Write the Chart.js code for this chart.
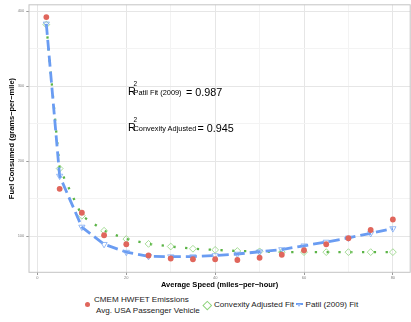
<!DOCTYPE html>
<html>
<head>
<meta charset="utf-8">
<script src="https://cdn.jsdelivr.net/npm/chart.js@4"></script>
<style>
html, body { margin: 0; padding: 0; background: #fff; overflow: hidden; width: 411px; height: 322px; }
body { position: relative; font-family: "Liberation Sans", Arial, Helvetica, sans-serif; color: #000; }
canvas { position: absolute; left: 0; top: 0; }
.t { position: absolute; white-space: nowrap; line-height: 1; }
.big { font-size: 10.8px; }
.sup { font-size: 6.5px; }
.sub { font-size: 7.4px; }
.leg { font-size: 8.1px; color: #1a1a1a; }
.dot { position: absolute; width: 5.6px; height: 5.6px; border-radius: 50%; background: #e0665c; }
.dia { position: absolute; width: 4.6px; height: 4.6px; border: 0.8px solid #8fd37c; transform: rotate(45deg); }
.bar { position: absolute; width: 7px; height: 2.6px; background: #6a9cf2; }
.tri { position: absolute; width: 0; height: 0; border-left: 2.2px solid transparent; border-right: 2.2px solid transparent; border-top: 3px solid #9dbcf5; }
</style>
</head>
<body>
<canvas id="chart" width="415" height="290"></canvas>

<div class="t big" style="left:128px;top:86.2px">R</div>
<div class="t sup" style="left:133.5px;top:81.4px">2</div>
<div class="t sub" style="left:133.5px;top:89.2px">Patil Fit (2009)</div>
<div class="t big" style="left:186px;top:86.6px">= 0.987</div>

<div class="t big" style="left:128px;top:122.2px">R</div>
<div class="t sup" style="left:133.5px;top:117.4px">2</div>
<div class="t sub" style="left:133.5px;top:125.2px">Convexity Adjusted</div>
<div class="t big" style="left:197.5px;top:122.6px">= 0.945</div>

<div class="dot" style="left:84.5px;top:301.5px"></div>
<div class="t leg" style="left:94px;top:296px">CMEM HWFET Emissions</div>
<div class="t leg" style="left:96px;top:307px">Avg. USA Passenger Vehicle</div>
<div class="dia" style="left:204px;top:301.5px"></div>
<div class="t leg" style="left:214px;top:301px">Convexity Adjusted Fit</div>
<div class="bar" style="left:296px;top:302.6px"></div>
<div class="tri" style="left:297.3px;top:303.8px"></div>
<div class="t leg" style="left:305.5px;top:301px">Patil (2009) Fit</div>

<script>
const speeds = [2, 5, 10, 15, 20, 25, 30, 35, 40, 45, 50, 55, 60, 65, 70, 75, 80];
const cmem = [392, 163, 131, 101, 89, 74, 70, 69, 69, 68, 71, 75, 81, 89, 97, 108, 122];
const convexFit = [382, 190, 127, 107, 96, 89.5, 86, 83, 81.5, 80, 79.5, 78.5, 78.5, 78.5, 78.5, 78.5, 78.5];
const patilFit = [383, 180, 112, 89, 78.5, 73, 72.5, 72.5, 74, 76, 79, 82, 87, 92, 97.5, 103.5, 110];

const fontFam = '"Liberation Sans", Arial, Helvetica, sans-serif';

function pts(ys) {
  return speeds.map((s, i) => ({ x: s, y: ys[i] }));
}

// panel border (top edge mostly, right edge is off the window)
const panelBorder = {
  id: 'panelBorder',
  beforeDatasetsDraw(chart) {
    const a = chart.chartArea, ctx = chart.ctx;
    ctx.save();
    ctx.strokeStyle = '#c4c4c4';
    ctx.lineWidth = 1;
    ctx.strokeRect(a.left, a.top, a.right - a.left, a.bottom - a.top);
    ctx.restore();
  }
};

var c = document.getElementById("chart");
new Chart(c, {
  type: "scatter",
  data: {
    datasets: [{
      label: "CMEM HWFET Emissions Avg. USA Passenger Vehicle",
      data: pts(cmem),
      pointRadius: 2.9,
      pointBackgroundColor: "#e0665c",
      pointBorderWidth: 0,
      order: 0
    }, {
      label: "Patil (2009) Fit",
      data: pts(patilFit),
      showLine: true,
      tension: 0,
      borderColor: "#6a9cf2",
      borderWidth: 2.8,
      borderDash: [11, 5],
      pointStyle: "triangle",
      rotation: 180,
      pointRadius: 3.6,
      pointBackgroundColor: "rgba(255,255,255,0)",
      pointBorderColor: "#7ea9f3",
      pointBorderWidth: 0.8,
      order: 1
    }, {
      label: "Convexity Adjusted Fit",
      data: pts(convexFit),
      showLine: true,
      tension: 0,
      borderColor: "#5bb446",
      borderWidth: 2.3,
      borderDash: [2.3, 9.5],
      pointStyle: "rectRot",
      pointRadius: 3.4,
      pointBackgroundColor: "rgba(255,255,255,0)",
      pointBorderColor: "#8fd37c",
      pointBorderWidth: 0.8,
      order: 2
    }]
  },
  options: {
    responsive: false,
    animation: false,
    events: [],
    layout: { padding: { top: 1.9, right: 0.8, bottom: 0, left: 0 } },
    plugins: {
      legend: { display: false },
      tooltip: { enabled: false }
    },
    scales: {
      x: {
        type: "linear",
        min: -1.9,
        max: 83.9,
        afterFit: s => { s.height = 17.7; },
        afterBuildTicks: s => {
          s.ticks = [];
          for (let v = 0; v <= 80; v += 10) s.ticks.push({ value: v });
        },
        border: { display: false },
        grid: {
          color: ctx => (ctx.tick && ctx.tick.value % 20 === 0) ? "#e6e6e6" : "#f3f3f3",
          tickColor: ctx => (ctx.tick && ctx.tick.value % 20 === 0) ? "#9a9a9a" : "rgba(0,0,0,0)",
          tickLength: 2.7
        },
        ticks: {
          autoSkip: false,
          maxRotation: 0,
          padding: 0.5,
          color: "#7f7f7f",
          font: { size: 4, family: fontFam },
          callback: v => v % 20 === 0 ? v : ""
        },
        title: {
          display: true,
          text: "Average Speed (miles\u2212per\u2212hour)",
          color: "#000",
          font: { size: 7.5, weight: "bold", family: fontFam },
          padding: { top: 0, bottom: 0.8 }
        }
      },
      y: {
        type: "linear",
        min: 51.6,
        max: 408.4,
        afterFit: s => { s.width = 29; },
        afterBuildTicks: s => {
          s.ticks = [];
          for (let v = 100; v <= 400; v += 50) s.ticks.push({ value: v });
        },
        border: { display: false },
        grid: {
          color: ctx => (ctx.tick && ctx.tick.value % 100 === 0) ? "#e6e6e6" : "#f3f3f3",
          tickColor: ctx => (ctx.tick && ctx.tick.value % 100 === 0) ? "#9a9a9a" : "rgba(0,0,0,0)",
          tickLength: 2.7
        },
        ticks: {
          autoSkip: false,
          padding: 2,
          color: "#7f7f7f",
          font: { size: 4, family: fontFam },
          callback: v => v % 100 === 0 ? v : ""
        },
        title: {
          display: true,
          text: "Fuel Consumed (grams\u2212per\u2212mile)",
          color: "#000",
          font: { size: 7.5, weight: "bold", family: fontFam },
          padding: { top: 7.5, bottom: 0 }
        }
      }
    }
  },
  plugins: [panelBorder]
});
</script>
</body>
</html>
